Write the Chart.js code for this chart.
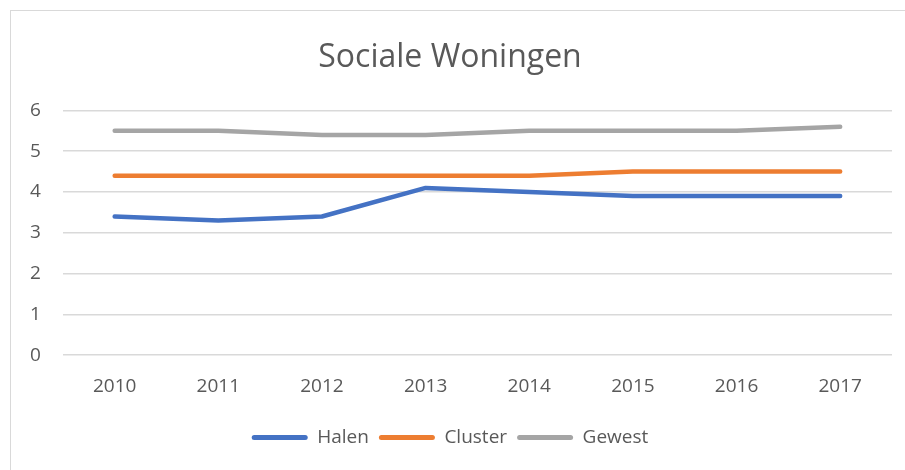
<!DOCTYPE html>
<html>
<head>
<meta charset="utf-8">
<script src="https://cdn.jsdelivr.net/npm/chart.js@4"></script>
<style>
  html, body { margin: 0; padding: 0; background: #fff; }
  #wrap { position: relative; width: 905px; height: 470px; overflow: hidden; }
  #frame { position: absolute; left: 10px; top: 10px; width: 1000px; height: 1000px; border: 1px solid #d9d9d9; }
  #chart { position: absolute; left: 0; top: 0; }
</style>
</head>
<body>
<div id="wrap">
  <div id="frame"></div>
  <canvas id="chart" width="905" height="470"></canvas>
</div>
<script>
const years = ["2010", "2011", "2012", "2013", "2014", "2015", "2016", "2017"];
const halen = [3.4, 3.3, 3.4, 4.1, 4.0, 3.9, 3.9, 3.9];
const cluster = [4.4, 4.4, 4.4, 4.4, 4.4, 4.5, 4.5, 4.5];
const gewest = [5.5, 5.5, 5.4, 5.4, 5.5, 5.5, 5.5, 5.6];
const yTicks = [0, 1, 2, 3, 4, 5, 6];

const font = "'Open Sans', 'Noto Sans', sans-serif";
const textColor = "#595959";

function series(label, data, color) {
  return {
    label,
    data,
    borderColor: color,
    backgroundColor: color,
    borderWidth: 4.5,
    borderCapStyle: "round",
    borderJoinStyle: "round",
    pointRadius: 0,
    tension: 0,
  };
}

new Chart(document.getElementById("chart"), {
  type: "line",
  data: {
    labels: years,
    datasets: [
      series("Halen", halen, "#4472c4"),
      series("Cluster", cluster, "#ed7d31"),
      series("Gewest", gewest, "#a5a5a5"),
    ],
  },
  options: {
    responsive: false,
    animation: false,
    layout: { padding: { left: 8, right: 13, top: 39, bottom: 13 } },
    plugins: {
      title: {
        display: true,
        text: "Sociale Woningen",
        color: textColor,
        font: { family: font, size: 32, weight: "normal" },
        padding: { top: 0, bottom: 33 },
      },
      legend: {
        position: "bottom",
        labels: {
          color: textColor,
          font: { family: font, size: 19 },
          boxWidth: 56,
          boxHeight: 5,
          padding: 10,
          useBorderRadius: true,
          borderRadius: 2.5,
          generateLabels: (chart) =>
            Chart.defaults.plugins.legend.labels.generateLabels(chart).map((item) => ({ ...item, lineWidth: 0 })),
        },
      },
      tooltip: { enabled: false },
    },
    scales: {
      x: {
        offset: true,
        grid: { display: false, drawTicks: false },
        border: { display: false },
        ticks: { color: textColor, font: { family: font, size: 19 }, padding: 20 },
      },
      y: {
        min: 0,
        max: 6,
        afterBuildTicks: (axis) => { axis.ticks = yTicks.map((v) => ({ value: v })); },
        grid: { color: "#d9d9d9", lineWidth: 1.5, drawTicks: false },
        border: { display: false },
        ticks: { color: textColor, font: { family: font, size: 19 }, padding: 22 },
      },
    },
  },
});
</script>
</body>
</html>
